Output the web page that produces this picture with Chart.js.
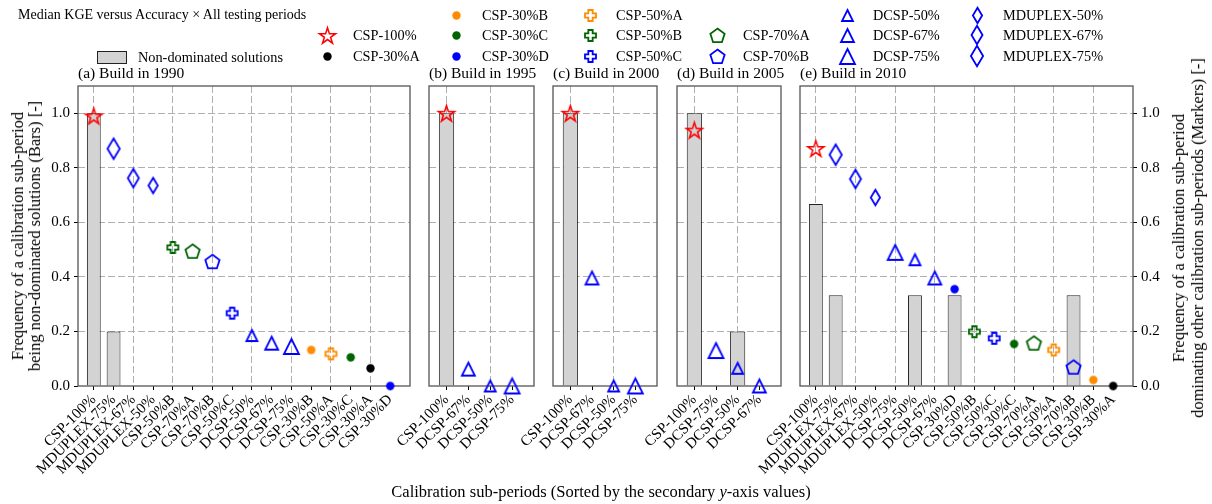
<!DOCTYPE html>
<html>
<head>
<meta charset="utf-8">
<script src="https://cdn.jsdelivr.net/npm/chart.js@4.4.1/dist/chart.umd.min.js"></script>
<style>
  body { margin: 0; background: #fff; }
  #fig { position: relative; width: 1212px; height: 504px; overflow: hidden;
         font-family: 'Liberation Serif', 'Times New Roman', serif; color: #000; }
  #fig canvas { position: absolute; top: 0; }
  .txt { position: absolute; white-space: nowrap; line-height: 1; }
</style>
</head>
<body>
<div id="fig"></div>
<script>
// sub-period names, bar heights (non-dominated frequency) and marker values (dominating frequency)
const cats1990 = ['CSP-100%', 'MDUPLEX-75%', 'MDUPLEX-67%', 'MDUPLEX-50%', 'CSP-50%B', 'CSP-70%A', 'CSP-70%B', 'CSP-50%C',
  'DCSP-50%', 'DCSP-67%', 'DCSP-75%', 'CSP-30%B', 'CSP-50%A', 'CSP-30%C', 'CSP-30%A', 'CSP-30%D'];
const bars1990 = [1.0, 0.2, 0, 0, 0, 0, 0, 0, 0, 0, 0, 0, 0, 0, 0, 0];
const dom1990 = [0.99, 0.87, 0.762, 0.735, 0.508, 0.494, 0.456, 0.267, 0.185, 0.157, 0.145, 0.132, 0.118, 0.105, 0.065, 0.0];

const cats1995 = ['CSP-100%', 'DCSP-67%', 'DCSP-50%', 'DCSP-75%'];
const bars1995 = [1.0, 0, 0, 0];
const dom1995 = [1.0, 0.062, 0.0, 0.0];

const cats2000 = ['CSP-100%', 'DCSP-67%', 'DCSP-50%', 'DCSP-75%'];
const bars2000 = [1.0, 0, 0, 0];
const dom2000 = [1.0, 0.396, 0.0, 0.0];

const cats2005 = ['CSP-100%', 'DCSP-75%', 'DCSP-50%', 'DCSP-67%'];
const bars2005 = [1.0, 0, 0.2, 0];
const dom2005 = [0.938, 0.13, 0.065, 0.0];

const cats2010 = ['CSP-100%', 'MDUPLEX-75%', 'MDUPLEX-67%', 'MDUPLEX-50%', 'DCSP-75%', 'DCSP-50%', 'DCSP-67%', 'CSP-30%D',
  'CSP-50%B', 'CSP-50%C', 'CSP-30%C', 'CSP-70%A', 'CSP-50%A', 'CSP-70%B', 'CSP-30%B', 'CSP-30%A'];
const bars2010 = [0.667, 0.333, 0, 0, 0, 0.333, 0, 0.333, 0, 0, 0, 0, 0, 0.333, 0, 0];
const dom2010 = [0.871, 0.848, 0.759, 0.691, 0.49, 0.463, 0.396, 0.355, 0.199, 0.175, 0.154, 0.157, 0.132, 0.069, 0.022, 0.0];

const yTicks = [0, 0.2, 0.4, 0.6, 0.8, 1.0];

const legendCols = [
  [null, 'CSP-100%', 'CSP-30%A'],
  ['CSP-30%B', 'CSP-30%C', 'CSP-30%D'],
  ['CSP-50%A', 'CSP-50%B', 'CSP-50%C'],
  [null, 'CSP-70%A', 'CSP-70%B'],
  ['DCSP-50%', 'DCSP-67%', 'DCSP-75%'],
  ['MDUPLEX-50%', 'MDUPLEX-67%', 'MDUPLEX-75%']
];

const RED = '#ff0000', BLUE = '#0000ff', GREEN = '#006400', ORANGE = '#ff8c00', BLACK = '#000000';

const markerStyle = {
  'CSP-100%': { shape: 'star', color: RED, size: 8.5 },
  'CSP-30%A': { shape: 'dot', color: BLACK, size: 4.2 },
  'CSP-30%B': { shape: 'dot', color: ORANGE, size: 4.2 },
  'CSP-30%C': { shape: 'dot', color: GREEN, size: 4.2 },
  'CSP-30%D': { shape: 'dot', color: BLUE, size: 4.2 },
  'CSP-50%A': { shape: 'plus', color: ORANGE, size: 13 },
  'CSP-50%B': { shape: 'plus', color: GREEN, size: 13 },
  'CSP-50%C': { shape: 'plus', color: BLUE, size: 13 },
  'CSP-70%A': { shape: 'pentagon', color: GREEN, size: 7.5 },
  'CSP-70%B': { shape: 'pentagon', color: BLUE, size: 7.5 },
  'DCSP-50%': { shape: 'triangle', color: BLUE, size: 13 },
  'DCSP-67%': { shape: 'triangle', color: BLUE, size: 15 },
  'DCSP-75%': { shape: 'triangle', color: BLUE, size: 17 },
  'MDUPLEX-50%': { shape: 'diamond', color: BLUE, size: 17 },
  'MDUPLEX-67%': { shape: 'diamond', color: BLUE, size: 20 },
  'MDUPLEX-75%': { shape: 'diamond', color: BLUE, size: 22 }
};

// hollow marker glyphs drawn on small canvases, used as Chart.js point styles
function makeGlyph(st) {
  const c = document.createElement('canvas');
  const dim = Math.ceil((st.shape === 'dot' || st.shape === 'star' || st.shape === 'pentagon') ? st.size * 2 + 6 : st.size + 6);
  c.width = dim; c.height = dim;
  const g = c.getContext('2d');
  g.translate(dim / 2, dim / 2);
  g.strokeStyle = st.color;
  g.fillStyle = st.color;
  g.lineWidth = 1.8;
  g.lineJoin = 'miter';
  g.beginPath();
  const s = st.size;
  if (st.shape === 'dot') {
    g.arc(0, 0, s, 0, Math.PI * 2);
    g.fill();
    return c;
  }
  if (st.shape === 'star') {
    g.lineWidth = 1.5;
    for (let k = 0; k < 10; k++) {
      const r = k % 2 === 0 ? s : s * 0.382;
      const a = (-90 + k * 36) * Math.PI / 180;
      g.lineTo(r * Math.cos(a), r * Math.sin(a) + 0.8);
    }
  } else if (st.shape === 'pentagon') {
    for (let k = 0; k < 5; k++) {
      const a = (-90 + k * 72) * Math.PI / 180;
      g.lineTo(s * Math.cos(a), s * Math.sin(a) + 0.6);
    }
  } else if (st.shape === 'plus') {
    const h = s / 2 - 1, a = s / 6;
    const pts = [[-a, -h], [a, -h], [a, -a], [h, -a], [h, a], [a, a], [a, h], [-a, h], [-a, a], [-h, a], [-h, -a], [-a, -a]];
    pts.forEach(p => g.lineTo(p[0], p[1]));
  } else if (st.shape === 'triangle') {
    const h = s / 2 - 1;
    g.moveTo(0, -h); g.lineTo(h, h); g.lineTo(-h, h);
  } else if (st.shape === 'diamond') {
    const h = s / 2 - 0.8, w = h * 0.6;
    g.moveTo(0, -h); g.lineTo(w, 0); g.lineTo(0, h); g.lineTo(-w, 0);
  }
  g.closePath();
  g.stroke();
  return c;
}

const glyphs = {};
Object.keys(markerStyle).forEach(k => { glyphs[k] = makeGlyph(markerStyle[k]); });

const fig = document.getElementById('fig');

function addText(html, x, y, size, opts = {}) {
  const d = document.createElement('div');
  d.className = 'txt';
  d.innerHTML = html;
  d.style.left = x + 'px';
  d.style.top = y + 'px';
  d.style.fontSize = size + 'px';
  if (opts.lineHeight) d.style.lineHeight = opts.lineHeight + 'px';
  if (opts.center) d.style.textAlign = 'center';
  d.style.transform = opts.transform || 'translate(0,-50%)';
  fig.appendChild(d);
  return d;
}

Chart.defaults.font.family = "'Liberation Serif', 'Times New Roman', serif";
Chart.defaults.color = '#000';

// axes frame, painted after the bars so markers sit on top of it
const frame = {
  id: 'frame',
  afterDatasetDraw(chart, args) {
    if (args.meta.type !== 'bar') return;
    const a = chart.chartArea, g = chart.ctx;
    g.save();
    g.strokeStyle = '#555';
    g.lineWidth = 1.3;
    g.strokeRect(a.left, a.top, a.right - a.left, a.bottom - a.top);
    g.restore();
  }
};

const TOP = 86, BOTTOM = 386;

const panels = [
  { title: '(a) Build in 1990', cats: cats1990, bars: bars1990, dom: dom1990, left: 78, width: 332, axis: 'left' },
  { title: '(b) Build in 1995', cats: cats1995, bars: bars1995, dom: dom1995, left: 429, width: 105, axis: 'none' },
  { title: '(c) Build in 2000', cats: cats2000, bars: bars2000, dom: dom2000, left: 553, width: 104, axis: 'none' },
  { title: '(d) Build in 2005', cats: cats2005, bars: bars2005, dom: dom2005, left: 677, width: 104, axis: 'none' },
  { title: '(e) Build in 2010', cats: cats2010, bars: bars2010, dom: dom2010, left: 800, width: 333, axis: 'right' }
];

function buildPanel(p) {
  const padL = p.axis === 'left' ? p.left : 80;
  const padR = p.axis === 'right' ? 79 : 6;
  const canvas = document.createElement('canvas');
  canvas.width = p.width + padL + padR;
  canvas.height = 504;
  canvas.style.left = (p.left - padL) + 'px';
  fig.appendChild(canvas);

  const idx = p.cats.map((_, i) => i);
  const n = p.cats.length;

  new Chart(canvas, {
    type: 'bar',
    data: {
      datasets: [
        {
          type: 'bar',
          data: idx.filter(i => p.bars[i] > 0).map(i => ({ x: i, y: p.bars[i] })),
          backgroundColor: '#d3d3d3',
          borderColor: '#222',
          borderWidth: 1,
          categoryPercentage: 0.7,
          barPercentage: 1,
          order: 2
        },
        {
          type: 'scatter',
          data: idx.map(i => ({ x: i, y: p.dom[i] })),
          pointStyle: c => glyphs[p.cats[c.dataIndex]] || 'circle',
          clip: false,
          order: 1
        }
      ]
    },
    options: {
      responsive: false,
      animation: false,
      events: [],
      layout: {
        padding: {
          top: TOP,
          bottom: 0,
          left: p.axis === 'left' ? 0 : padL,
          right: p.axis === 'right' ? 0 : padR
        }
      },
      plugins: { legend: { display: false }, tooltip: { enabled: false } },
      scales: {
        x: {
          type: 'linear',
          offset: false,
          min: -0.8,
          max: n,
          afterBuildTicks: s => { s.ticks = idx.map(v => ({ value: v })); },
          afterFit: s => { s.height = 504 - BOTTOM; s.paddingLeft = 0; s.paddingRight = 0; },
          ticks: {
            autoSkip: false,
            minRotation: 45,
            maxRotation: 45,
            padding: 1,
            font: { size: 15 },
            callback: v => p.cats[v]
          },
          grid: {
            offset: false,
            color: c => (c.tick && c.tick.value % 2 === 0) ? '#b0b0b0' : 'rgba(0,0,0,0)',
            tickColor: '#000',
            tickLength: 4,
            lineWidth: 1
          },
          border: { display: false, dash: [7, 3] }
        },
        y: {
          position: p.axis === 'right' ? 'right' : 'left',
          min: 0,
          max: 1.1,
          afterBuildTicks: s => { s.ticks = yTicks.map(v => ({ value: v })); },
          afterFit: s => {
            s.width = p.axis === 'left' ? padL : (p.axis === 'right' ? padR : 0);
            s.paddingTop = 0; s.paddingBottom = 0;
          },
          ticks: {
            display: p.axis !== 'none',
            padding: 4,
            font: { size: 15 },
            callback: v => v.toFixed(1)
          },
          grid: {
            color: c => (c.tick && c.tick.value > 0) ? '#b0b0b0' : 'rgba(0,0,0,0)',
            drawTicks: p.axis !== 'none',
            tickColor: '#000',
            tickLength: 4,
            lineWidth: 1
          },
          border: { display: false, dash: [7, 3] }
        }
      }
    },
    plugins: [frame]
  });

  addText(p.title, p.left, 73, 15.5);
}

panels.forEach(buildPanel);

// figure title and legend
addText('Median KGE versus Accuracy \u00d7 All testing periods', 18, 15, 14);

const patch = document.createElement('div');
patch.style.cssText = 'position:absolute;left:97px;top:51px;width:28px;height:11px;background:#d3d3d3;border:1px solid #222;';
fig.appendChild(patch);
addText('Non-dominated solutions', 138, 57, 14.3);

const colX = [327, 456, 590, 717, 847, 977];
const rowY = [15, 35, 56];
legendCols.forEach((col, ci) => {
  col.forEach((name, ri) => {
    if (!name) return;
    const c = makeGlyph(markerStyle[name]);
    c.style.left = (colX[ci] - c.width / 2) + 'px';
    c.style.top = (rowY[ri] - c.height / 2) + 'px';
    fig.appendChild(c);
    addText(name, colX[ci] + 26, rowY[ri], 14.3);
  });
});

// axis titles
addText('Frequency of a calibration sub-period<br>being non-dominated solutions (Bars) [-]', 26, (TOP + BOTTOM) / 2, 16.5,
  { lineHeight: 17, center: true, transform: 'translate(-50%,-50%) rotate(-90deg)' });
addText('Frequency of a calibration sub-period<br>dominating other calibration sub-periods (Markers) [-]', 1188, (TOP + BOTTOM) / 2 + 2, 16.5,
  { lineHeight: 19, center: true, transform: 'translate(-50%,-50%) rotate(-90deg)' });
addText('Calibration sub-periods (Sorted by the secondary <i>y</i>-axis values)', 601, 492, 16.5,
  { transform: 'translate(-50%,-50%)' });
</script>
</body>
</html>
